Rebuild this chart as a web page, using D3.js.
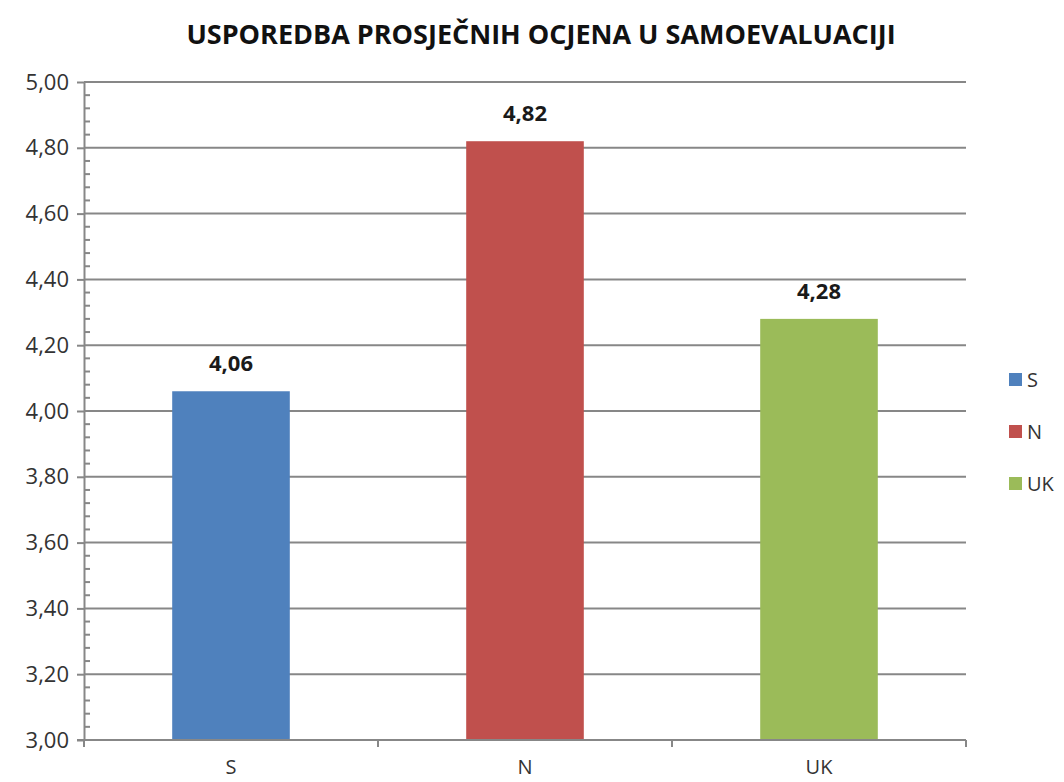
<!DOCTYPE html>
<html>
<head>
<meta charset="utf-8">
<script src="https://cdn.jsdelivr.net/npm/d3@7"></script>
<style>
    body { margin: 0; background: #fff; }
    svg { display: block; font-family: "Open Sans", sans-serif; }
</style>
</head>
<body>
<div id="chart"></div>
<script>
var categories = ['S', 'N', 'UK'];
var values = [4.06, 4.82, 4.28];
var colors = ['#4F81BD', '#C0504D', '#9BBB59'];
var yTicks = [3.0, 3.2, 3.4, 3.6, 3.8, 4.0, 4.2, 4.4, 4.6, 4.8, 5.0];
var title = 'USPOREDBA PROSJEČNIH OCJENA U SAMOEVALUACIJI';

var width = 1064, height = 782;
var margin = {top: 82, bottom: 42, left: 84, right: 98};

var svg = d3.select('#chart')
    .append('svg')
    .attr('width', width)
    .attr('height', height);

var x = d3.scaleBand()
    .domain(categories)
    .range([margin.left, width - margin.right])
    .paddingInner(0.6)
    .paddingOuter(0.3);

var y = d3.scaleLinear()
    .domain([3, 5])
    .range([height - margin.bottom, margin.top]);

var fmt = function (d) { return d3.format('.2f')(d).replace('.', ','); };

// gridlines
svg.append('g')
    .selectAll('line')
    .data(yTicks.slice(1))
    .enter().append('line')
    .attr('x1', margin.left)
    .attr('x2', width - margin.right)
    .attr('y1', function (d) { return y(d); })
    .attr('y2', function (d) { return y(d); })
    .attr('stroke', '#878787')
    .attr('stroke-width', 2);

// minor ticks
var minor = d3.range(3, 5.0001, 0.04).filter(function (d, i) { return i % 5 !== 0; });
svg.append('g')
    .selectAll('line')
    .data(minor)
    .enter().append('line')
    .attr('x1', margin.left)
    .attr('x2', margin.left + 6)
    .attr('y1', function (d) { return y(d); })
    .attr('y2', function (d) { return y(d); })
    .attr('stroke', '#878787')
    .attr('stroke-width', 2);

// bars
svg.append('g')
    .selectAll('rect')
    .data(values)
    .enter().append('rect')
    .attr('x', function (d, i) { return x(categories[i]); })
    .attr('width', x.bandwidth())
    .attr('y', function (d) { return y(d); })
    .attr('height', function (d) { return y(3) - y(d); })
    .attr('fill', function (d, i) { return colors[i]; });

// value labels
svg.append('g')
    .selectAll('text')
    .data(values)
    .enter().append('text')
    .attr('x', function (d, i) { return x(categories[i]) + x.bandwidth() / 2; })
    .attr('y', function (d) { return y(d) - 20; })
    .attr('text-anchor', 'middle')
    .attr('font-size', 22)
    .attr('font-weight', 'bold')
    .attr('fill', '#1a1a1a')
    .text(fmt);

// y axis
var yAxis = d3.axisLeft(y)
    .tickValues(yTicks)
    .tickSize(7)
    .tickSizeOuter(0)
    .tickPadding(8)
    .tickFormat(fmt);
var yAxisG = svg.append('g')
    .attr('transform', 'translate(' + margin.left + ' 0)')
    .call(yAxis);
yAxisG.selectAll('line, path').attr('stroke', '#878787').attr('stroke-width', 2);
yAxisG.selectAll('text').attr('font-size', 22).attr('fill', '#333').attr('font-family', '"Open Sans", sans-serif');

// x axis: ticks at category boundaries
var xAxisG = svg.append('g')
    .attr('transform', 'translate(0 ' + y(3) + ')');
xAxisG.append('line')
    .attr('x1', margin.left - 7)
    .attr('x2', width - margin.right)
    .attr('stroke', '#878787')
    .attr('stroke-width', 2);
var step = x.step();
var bounds = d3.range(categories.length + 1).map(function (i) { return margin.left + i * step; });
xAxisG.selectAll('.xtick')
    .data(bounds)
    .enter().append('line')
    .attr('x1', function (d) { return d; })
    .attr('x2', function (d) { return d; })
    .attr('y1', 0)
    .attr('y2', 7)
    .attr('stroke', '#878787')
    .attr('stroke-width', 2);
xAxisG.selectAll('text')
    .data(categories)
    .enter().append('text')
    .attr('x', function (d) { return x(d) + x.bandwidth() / 2; })
    .attr('y', 34)
    .attr('text-anchor', 'middle')
    .attr('font-size', 20)
    .attr('fill', '#333')
    .text(function (d) { return d; });

// title
svg.append('text')
    .attr('x', 541)
    .attr('y', 44)
    .attr('text-anchor', 'middle')
    .attr('font-size', 27)
    .attr('font-weight', 'bold')
    .attr('fill', '#111')
    .text(title);

// legend
var legend = svg.append('g')
    .attr('transform', 'translate(1009 373)');
var items = legend.selectAll('g')
    .data(categories)
    .enter().append('g')
    .attr('transform', function (d, i) { return 'translate(0 ' + (i * 52) + ')'; });
items.append('rect')
    .attr('width', 13)
    .attr('height', 13)
    .attr('fill', function (d, i) { return colors[i]; });
items.append('text')
    .attr('x', 18)
    .attr('y', 14)
    .attr('font-size', 20)
    .attr('fill', '#333')
    .text(function (d) { return d; });
</script>
</body>
</html>
